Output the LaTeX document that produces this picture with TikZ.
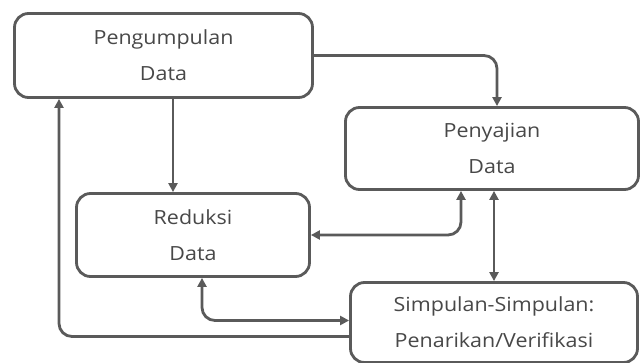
\documentclass[tikz,border=0pt]{standalone}
\usepackage{fontspec}
\setmainfont{Open Sans}[FakeStretch=1.1]
\usetikzlibrary{arrows.meta}
\definecolor{ln}{HTML}{5A5A5A}
\definecolor{tx}{HTML}{484848}
\tikzset{
  box/.style={draw=ln, line width=2.8pt, rounded corners=14pt, fill=white, inner sep=0pt,
    align=center, text=tx, font=\fontsize{19.5}{36}\selectfont},
  conn/.style={draw=ln, line width=2.8pt, rounded corners=13pt,
    arrows={-Triangle[length=9pt,width=9pt]}},
  bconn/.style={draw=ln, line width=2.8pt, rounded corners=13pt,
    arrows={Triangle[length=9pt,width=9pt]-Triangle[length=9pt,width=9pt]}}
}
\begin{document}
\begin{tikzpicture}[x=1pt,y=-1pt]
\useasboundingbox (0,0) rectangle (640,363);
\node[box, minimum width=298pt, minimum height=84pt] (peng) at (163.5,55.5) {Pengumpulan\\Data};
\node[box, minimum width=293pt, minimum height=82pt] (peny) at (492,148.5) {Penyajian\\Data};
\node[box, minimum width=233pt, minimum height=83pt] (redu) at (193,235) {Reduksi\\Data};
\node[box, minimum width=287pt, minimum height=80pt] (simp) at (494,322.5) {Simpulan-Simpulan:\\Penarikan/Verifikasi};
\draw[conn] (peng.east) -| ([xshift=5pt]peny.north);
\draw[conn, rounded corners=0pt] ([xshift=9.5pt]peng.south) -- ([xshift=9.5pt]peng.south |- redu.north);
\draw[bconn] (redu.east) -| ([xshift=-31pt]peny.south);
\draw[bconn, rounded corners=0pt] (simp.north |- peny.south) -- (simp.north);
\draw[bconn] ([xshift=9pt]redu.south) |- ([yshift=2pt]simp.west);
\draw[conn] ([yshift=-14pt]simp.west) -| ([xshift=-104.5pt]peng.south);
\end{tikzpicture}
\end{document}
